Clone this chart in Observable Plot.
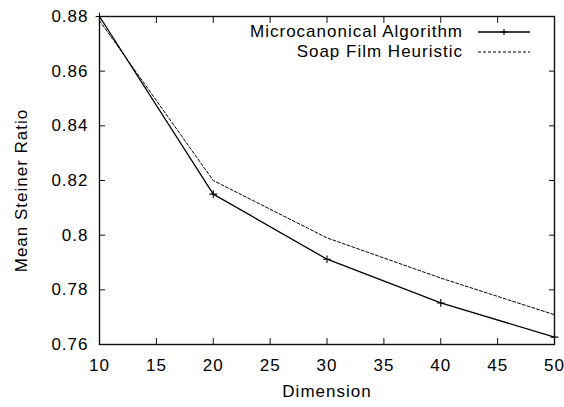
<!DOCTYPE html>
<html>
<head>
<meta charset="utf-8">
<script src="https://cdn.jsdelivr.net/npm/d3@7"></script>
<script src="https://cdn.jsdelivr.net/npm/@observablehq/plot@0.6"></script>
<style>
  html, body { margin: 0; padding: 0; background: #fff; }
  #wrap { position: relative; width: 564px; height: 407px; font-family: "Liberation Sans", Arial, sans-serif; }
  .leg { position: absolute; font-size: 17px; letter-spacing: 1px; color: #000; white-space: nowrap; line-height: 20px; }
</style>
</head>
<body>
<div id="wrap"></div>
<script>
const dims = [10, 20, 30, 40, 50];
const microcanonical = [0.880, 0.815, 0.7912, 0.7752, 0.7627];
const soapFilm = [0.8785, 0.820, 0.799, 0.7843, 0.7709];
const xTicks = [10, 15, 20, 25, 30, 35, 40, 45, 50];
const yTicks = [0.76, 0.78, 0.80, 0.82, 0.84, 0.86, 0.88];
const seriesNames = ["Microcanonical Algorithm", "Soap Film Heuristic"];
const xTitle = "Dimension";
const yTitle = "Mean Steiner Ratio";

const micro = dims.map((d, i) => ({x: d, y: microcanonical[i]}));
const soap = dims.map((d, i) => ({x: d, y: soapFilm[i]}));
const fmt = d => String(+d.toFixed(2));
const font = {fontSize: 17, fontFamily: "Liberation Sans, Arial, sans-serif"};

const chart = Plot.plot({
  width: 564,
  height: 407,
  marginLeft: 99,
  marginRight: 10,
  marginTop: 16,
  marginBottom: 63,
  style: {fontFamily: "Liberation Sans, Arial, sans-serif", fontSize: "17px", letterSpacing: "1px", background: "#fff", color: "#000"},
  x: {domain: [10, 50]},
  y: {domain: [0.76, 0.88]},
  marks: [
    Plot.axisX({ticks: xTicks, tickSize: 0, tickPadding: 14, tickFormat: fmt, label: null, fontSize: 17}),
    Plot.axisY({ticks: yTicks, tickSize: 0, tickPadding: 11, tickFormat: fmt, label: null, fontSize: 17}),
    Plot.axisX({anchor: "bottom", ticks: xTicks, tickSize: -6, tickFormat: () => "", label: null, stroke: "#111"}),
    Plot.axisX({anchor: "top", ticks: xTicks, tickSize: -6, tickFormat: () => "", label: null, stroke: "#111"}),
    Plot.axisY({anchor: "left", ticks: yTicks, tickSize: -6, tickFormat: () => "", label: null, stroke: "#111"}),
    Plot.axisY({anchor: "right", ticks: yTicks, tickSize: -6, tickFormat: () => "", label: null, stroke: "#111"}),
    Plot.line(soap, {x: "x", y: "y", stroke: "#000", strokeWidth: 1, strokeDasharray: "3,2"}),
    Plot.line(micro, {x: "x", y: "y", stroke: "#000", strokeWidth: 1.3}),
    Plot.dot(micro, {x: "x", y: "y", symbol: "plus", r: 2.6, stroke: "#000", strokeWidth: 1.1}),
    Plot.frame({stroke: "#111", strokeWidth: 1.4}),
    Plot.text([xTitle], {frameAnchor: "bottom", dy: 47, lineAnchor: "middle", textAnchor: "middle", text: d => d, ...font}),
    Plot.text([yTitle], {frameAnchor: "left", dx: -78, dy: 10, rotate: -90, lineAnchor: "middle", textAnchor: "middle", text: d => d, ...font})
  ]
});

const wrap = document.getElementById("wrap");
wrap.appendChild(chart);

// legend (gnuplot-style key, inside top-right)
const leg = [
  {name: seriesNames[0], dash: null, marker: true, top: 32},
  {name: seriesNames[1], dash: "3,2", marker: false, top: 52}
];
leg.forEach(l => {
  const t = document.createElement("div");
  t.className = "leg";
  t.textContent = l.name;
  t.style.right = (564 - 463) + "px";
  t.style.top = (l.top - 10) + "px";
  wrap.appendChild(t);
  const s = document.createElementNS("http://www.w3.org/2000/svg", "svg");
  s.setAttribute("width", 56);
  s.setAttribute("height", 10);
  s.style.position = "absolute";
  s.style.left = "476px";
  s.style.top = (l.top - 5) + "px";
  s.innerHTML = `<line x1="2" x2="54" y1="5" y2="5" stroke="#000" stroke-width="${l.dash ? 1 : 1.3}" ${l.dash ? `stroke-dasharray="${l.dash}"` : ""}/>` +
    (l.marker ? `<path d="M28,2V8M25,5H31" stroke="#000" stroke-width="1.1"/>` : "");
  wrap.appendChild(s);
});
</script>
</body>
</html>
